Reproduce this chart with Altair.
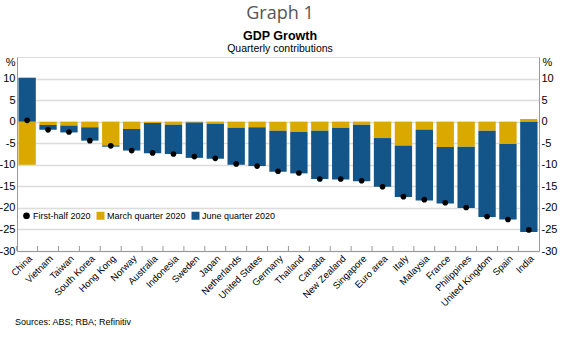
import altair as alt
import pandas as pd

countries = ["China", "Vietnam", "Taiwan", "South Korea", "Hong Kong", "Norway",
             "Australia", "Indonesia", "Sweden", "Japan", "Netherlands",
             "United States", "Germany", "Thailand", "Canada", "New Zealand",
             "Singapore", "Euro area", "Italy", "Malaysia", "France",
             "Philippines", "United Kingdom", "Spain", "India"]
march = [-10.0, -0.8, -0.9, -1.3, -5.5, -1.7, -0.3, -0.7, -0.2, -0.5, -1.4,
         -1.3, -2.1, -2.4, -2.1, -1.4, -0.7, -3.8, -5.5, -1.9, -5.9, -5.8,
         -2.1, -5.2, 0.6]
june = [10.2, -1.1, -1.6, -3.1, -0.3, -5.0, -7.0, -6.8, -8.2, -8.1, -8.6,
        -9.0, -9.5, -9.6, -11.2, -12.0, -13.1, -11.3, -12.0, -16.4, -13.1,
        -14.2, -20.0, -17.5, -25.6]
first_half = [0.3, -1.9, -2.4, -4.4, -5.6, -6.7, -7.25, -7.5, -8.1, -8.5, -9.8,
              -10.3, -11.5, -11.9, -13.3, -13.3, -13.7, -15.1, -17.4, -18.1,
              -18.8, -19.9, -22.0, -22.7, -25.1]
series = ["First-half 2020", "March quarter 2020", "June quarter 2020"]
colors = ["#000000", "#d9a900", "#135589"]
y_ticks = [-30, -25, -20, -15, -10, -5, 0, 5, 10]

n = len(countries)
bars = pd.DataFrame({
    "country": countries * 2,
    "series": [series[1]] * n + [series[2]] * n,
    "value": march + june,
    "ord": [0] * n + [1] * n,
})
dots = pd.DataFrame({"country": countries, "series": [series[0]] * n,
                     "value": first_half})

FONT = "Liberation Sans Narrow, Arial Narrow, Liberation Sans, Arial"
GREY = "#9a9a9a"

xscale = alt.Scale(paddingInner=0.17, paddingOuter=0.07)
yscale = alt.Scale(domain=[-30, 15], nice=False, zero=False)

legend = alt.Legend(
    title=None, orient="none", legendX=5, legendY=154, direction="horizontal",
    symbolType={"expr": "datum.value === 'First-half 2020' ? 'circle' : 'square'"},
    symbolSize={"expr": "datum.value === 'First-half 2020' ? 45 : 64"},
    labelFont=FONT, labelFontSize=9, labelColor="black", columnPadding=5,
    symbolStrokeWidth=0, labelOffset=2,
)
color = alt.Color("series:N", scale=alt.Scale(domain=series, range=colors),
                  legend=legend)

left_axis = alt.Axis(values=y_ticks, title="%", titleAngle=0, titleX=-2,
                     titleY=5, titleAlign="right", titleBaseline="middle",
                     titleFont="Liberation Sans", titleFontSize=11,
                     titleFontWeight="normal", titleColor="black",
                     labelExpr="'' + datum.value", labelFont="Liberation Sans",
                     labelFontSize=11, labelColor="black", labelPadding=2,
                     ticks=False, grid=True, gridColor="#dcdcdc", gridWidth=1.5,
                     domainColor=GREY)
right_axis = alt.Axis(values=y_ticks, orient="right", title="%", titleAngle=0,
                      titleX=3, titleY=5, titleAlign="left",
                      titleBaseline="middle", titleFont="Liberation Sans",
                      titleFontSize=11, titleFontWeight="normal",
                      titleColor="black", labelExpr="'' + datum.value",
                      labelFont="Liberation Sans", labelFontSize=11,
                      labelColor="black", labelPadding=2, ticks=False,
                      grid=False, domainColor=GREY)
x_axis = alt.Axis(title=None, labelAngle=-45, labelAlign="right",
                  labelBaseline="top", labelFont=FONT, labelFontSize=9.5,
                  labelColor="black", labelPadding=2, ticks=False,
                  domainColor=GREY)

xenc = alt.X("country:N", sort=countries, scale=xscale, axis=x_axis)

bar_layer = alt.Chart(bars).mark_bar().encode(
    x=xenc,
    y=alt.Y("value:Q", scale=yscale, axis=left_axis, stack="zero"),
    color=color,
    order=alt.Order("ord:Q"),
)
dot_layer = alt.Chart(dots).mark_circle(size=32, opacity=1).encode(
    x=xenc,
    y=alt.Y("value:Q", scale=yscale, axis=right_axis),
    color=color,
)
tick_layer = alt.Chart(dots).mark_rule(color=GREY, strokeWidth=1,
                                       xOffset=-1.8).encode(
    x=alt.X("country:N", sort=countries, scale=xscale, axis=x_axis,
            bandPosition=0),
    y=alt.value(194), y2=alt.value(189),
)

def label(txt, x, y, size, font, weight="normal", col="black", align="center"):
    return alt.Chart(pd.DataFrame({"t": [txt]})).mark_text(
        font=font, fontSize=size, fontWeight=weight, color=col, align=align,
        baseline="middle").encode(text="t:N", x=alt.value(x), y=alt.value(y))

t1 = label("Graph 1", 263, -43, 18, "Open Sans", col="#555555")
t2 = label("GDP Growth", 263, -21, 12.5, "Liberation Sans", weight="bold")
t3 = label("Quarterly contributions", 263, -8, 10.5, FONT)
src = label("Sources: ABS; RBA; Refinitiv", -2, 265, 9, FONT, align="left")

chart = alt.layer(tick_layer, bar_layer, dot_layer, t1, t2, t3, src).resolve_axis(
    y="independent"
).properties(
    width=522, height=194,
    autosize=alt.AutoSizeParams(type="none"),
    padding={"left": 17, "top": 57, "right": 22, "bottom": 88},
).configure_view(stroke=GREY, strokeWidth=1).configure(background="white")

chart.save("out.html", embed_options={"renderer": "svg", "actions": False})
